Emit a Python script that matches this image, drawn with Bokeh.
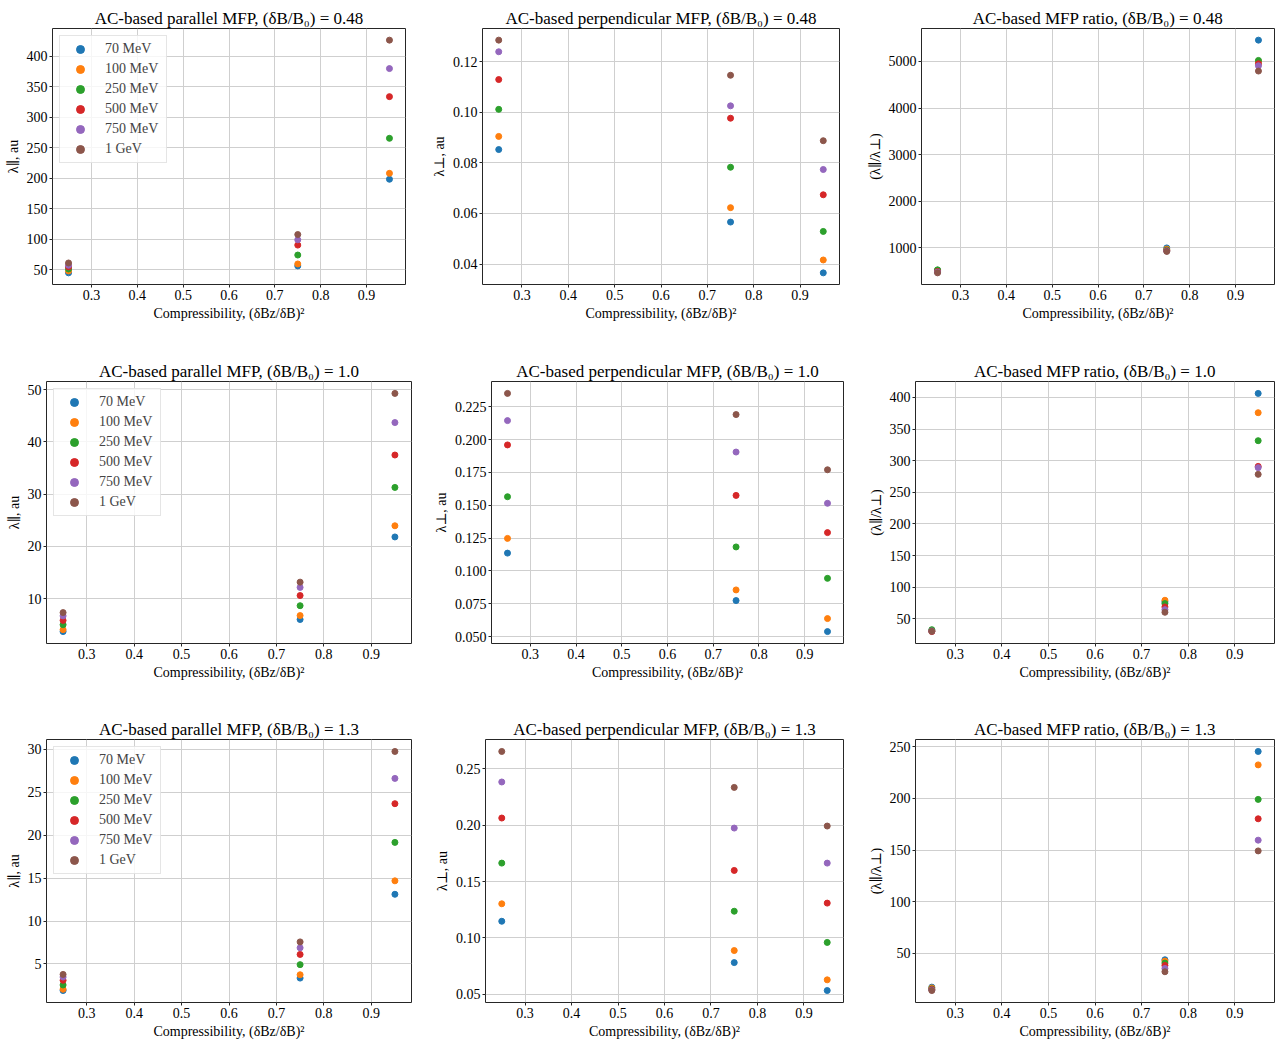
from bokeh.plotting import figure
from bokeh.layouts import column, row
from bokeh.models import Range1d, FixedTicker, PrintfTickFormatter, Legend, LegendItem
from bokeh.embed import file_html
from bokeh.resources import INLINE

# ---------------- data ----------------
compressibility = [0.25, 0.75, 0.95]
energies = ["70 MeV", "100 MeV", "250 MeV", "500 MeV", "750 MeV", "1 GeV"]
colors = ["#1f77b4", "#ff7f0e", "#2ca02c", "#d62728", "#9467bd", "#8c564b"]
x_ticks = [0.3, 0.4, 0.5, 0.6, 0.7, 0.8, 0.9]

# each row: one energy; values at compressibility 0.25, 0.75, 0.95
par_048 = [[44.6, 56.0, 198.0], [47.8, 59.2, 207.7], [51.0, 73.8, 265.1],
           [54.3, 90.1, 333.4], [57.0, 98.8, 379.4], [60.8, 107.4, 426.0]]
perp_048 = [[0.0853, 0.0566, 0.0365], [0.0905, 0.0623, 0.0416], [0.1012, 0.0783, 0.0529],
            [0.1130, 0.0977, 0.0674], [0.1240, 0.1026, 0.0774], [0.1286, 0.1147, 0.0888]]
ratio_048 = [[520, 1000, 5456], [515, 975, 5000], [530, 955, 5021],
             [495, 940, 4950], [480, 935, 4907], [465, 925, 4793]]

par_100 = [[3.66, 5.98, 21.8], [4.03, 6.73, 23.94], [4.98, 8.62, 31.29],
           [5.80, 10.57, 37.5], [6.67, 12.13, 43.72], [7.30, 13.14, 49.31]]
perp_100 = [[0.1136, 0.0775, 0.0539], [0.1248, 0.0856, 0.0638], [0.1565, 0.1183, 0.0944],
            [0.1959, 0.1575, 0.1292], [0.2144, 0.1905, 0.1515], [0.2351, 0.2190, 0.1770]]
ratio_100 = [[31.0, 77.0, 406.3], [31.5, 79.5, 375.8], [33.0, 74.2, 331.6],
             [30.0, 69.0, 291.0], [31.0, 64.7, 289.0], [30.5, 60.5, 278.4]]

par_130 = [[1.90, 3.35, 13.12], [2.05, 3.74, 14.69], [2.55, 4.92, 19.17],
           [3.09, 6.11, 23.68], [3.47, 6.88, 26.63], [3.78, 7.57, 29.77]]
perp_130 = [[0.1148, 0.0781, 0.0533], [0.1303, 0.0888, 0.0628], [0.1664, 0.1237, 0.0960],
            [0.2064, 0.1599, 0.1309], [0.2384, 0.1975, 0.1664], [0.2655, 0.2336, 0.1993]]
ratio_130 = [[17.3, 43.8, 245.5], [16.5, 42.5, 232.5], [15.5, 40.6, 199.1],
             [15.0, 38.3, 180.3], [14.5, 35.4, 159.6], [14.0, 32.2, 149.2]]

yt_par_048 = [50, 100, 150, 200, 250, 300, 350, 400]
yt_perp_048 = [0.04, 0.06, 0.08, 0.10, 0.12]
yt_ratio_048 = [1000, 2000, 3000, 4000, 5000]
yt_par_100 = [10, 20, 30, 40, 50]
yt_perp_100 = [0.050, 0.075, 0.100, 0.125, 0.150, 0.175, 0.200, 0.225]
yt_ratio_100 = [50, 100, 150, 200, 250, 300, 350, 400]
yt_par_130 = [5, 10, 15, 20, 25, 30]
yt_perp_130 = [0.05, 0.10, 0.15, 0.20, 0.25]
yt_ratio_130 = [50, 100, 150, 200, 250]

levels = ["0.48", "1.0", "1.3"]
xlabel = "Compressibility, (δBz/δB)²"
ylab_par = "λ∥, au"
ylab_perp = "λ⊥, au"
ylab_ratio = "(λ∥/λ⊥)"

# ---------------- styling / layout ----------------
FONT = "Liberation Serif, DejaVu Serif, serif"

panels = [
    # data, kind, level, yticks, fmt, ylabel, width, height, left, right, top, bottom, legend
    [par_048, "parallel MFP", 0, yt_par_048, "%d", ylab_par, 428, 340, 52, 23, 28, 56, True],
    [perp_048, "perpendicular MFP", 0, yt_perp_048, "%.2f", ylab_perp, 434, 340, 54, 23, 28, 56, False],
    [ratio_048, "MFP ratio", 0, yt_ratio_048, "%d", ylab_ratio, 416, 340, 59, 4, 28, 56, False],
    [par_100, "parallel MFP", 1, yt_par_100, "%d", ylab_par, 428, 360, 46, 17, 41, 57, True],
    [perp_100, "perpendicular MFP", 1, yt_perp_100, "%.3f", ylab_perp, 434, 360, 63, 19, 41, 57, False],
    [ratio_100, "MFP ratio", 1, yt_ratio_100, "%d", ylab_ratio, 416, 360, 53, 4, 41, 57, False],
    [par_130, "parallel MFP", 2, yt_par_130, "%d", ylab_par, 428, 346, 46, 17, 39, 44, True],
    [perp_130, "perpendicular MFP", 2, yt_perp_130, "%.2f", ylab_perp, 434, 346, 57, 19, 39, 44, False],
    [ratio_130, "MFP ratio", 2, yt_ratio_130, "%d", ylab_ratio, 416, 346, 53, 4, 39, 44, False],
]


def make_panel(data, kind, lvl, yticks, fmt, ylab, w, h, bl, br, bt, bb, with_legend):
    allv = [v for s in data for v in s]
    lo, hi = min(allv), max(allv)
    pad = 0.05 * (hi - lo)
    xlo, xhi = min(compressibility), max(compressibility)
    xpad = 0.05 * (xhi - xlo)
    p = figure(width=w, height=h, output_backend="svg", toolbar_location=None,
               x_range=Range1d(xlo - xpad, xhi + xpad), y_range=Range1d(lo - pad, hi + pad),
               min_border_left=bl, min_border_right=br, min_border_top=bt, min_border_bottom=bb)
    p.title.text = "AC-based %s, (δB/B₀) = %s" % (kind, levels[lvl])
    p.title.align = "center"
    p.title.text_font = FONT
    p.title.text_font_size = "17px"
    p.title.text_font_style = "normal"
    p.title.text_color = "#000000"
    p.title.standoff = 1
    p.background_fill_color = "white"
    p.border_fill_color = "white"
    p.outline_line_color = "#262626"
    p.outline_line_width = 1
    p.grid.grid_line_color = "#cfcfcf"
    p.grid.grid_line_width = 1
    p.xaxis.ticker = FixedTicker(ticks=x_ticks)
    p.xaxis.formatter = PrintfTickFormatter(format="%.1f")
    p.yaxis.ticker = FixedTicker(ticks=yticks)
    p.yaxis.formatter = PrintfTickFormatter(format=fmt)
    p.xaxis.axis_label = xlabel
    p.yaxis.axis_label = ylab
    for ax in (p.xaxis, p.yaxis):
        ax.axis_line_color = None
        ax.major_tick_line_color = "#262626"
        ax.major_tick_out = 3
        ax.major_tick_in = 0
        ax.minor_tick_line_color = None
        ax.major_label_standoff = 2
        ax.major_label_text_font = FONT
        ax.major_label_text_font_size = "14px"
        ax.major_label_text_color = "#000000"
        ax.axis_label_text_font = FONT
        ax.axis_label_text_font_size = "14px"
        ax.axis_label_text_font_style = "normal"
        ax.axis_label_text_color = "#000000"
        ax.axis_label_standoff = 3
    items = []
    for i, series in enumerate(data):
        r = p.scatter(x=compressibility, y=series, size=6, marker="circle",
                      fill_color=colors[i], line_color=colors[i])
        items.append(LegendItem(label=energies[i], renderers=[r]))
    if with_legend:
        lg = Legend(items=items, location="top_left", margin=7, padding=3, spacing=0,
                    label_height=20, glyph_height=20, glyph_width=34, label_standoff=8,
                    label_width=58,
                    label_text_font=FONT, label_text_font_size="14px",
                    border_line_color="#cccccc", border_line_width=1,
                    background_fill_color="white", background_fill_alpha=0.8)
        p.add_layout(lg)
    return p


figs = [make_panel(*spec) for spec in panels]
layout = column(row(*figs[0:3]), row(*figs[3:6]), row(*figs[6:9]))

open("out.html", "w").write(file_html(layout, INLINE))
